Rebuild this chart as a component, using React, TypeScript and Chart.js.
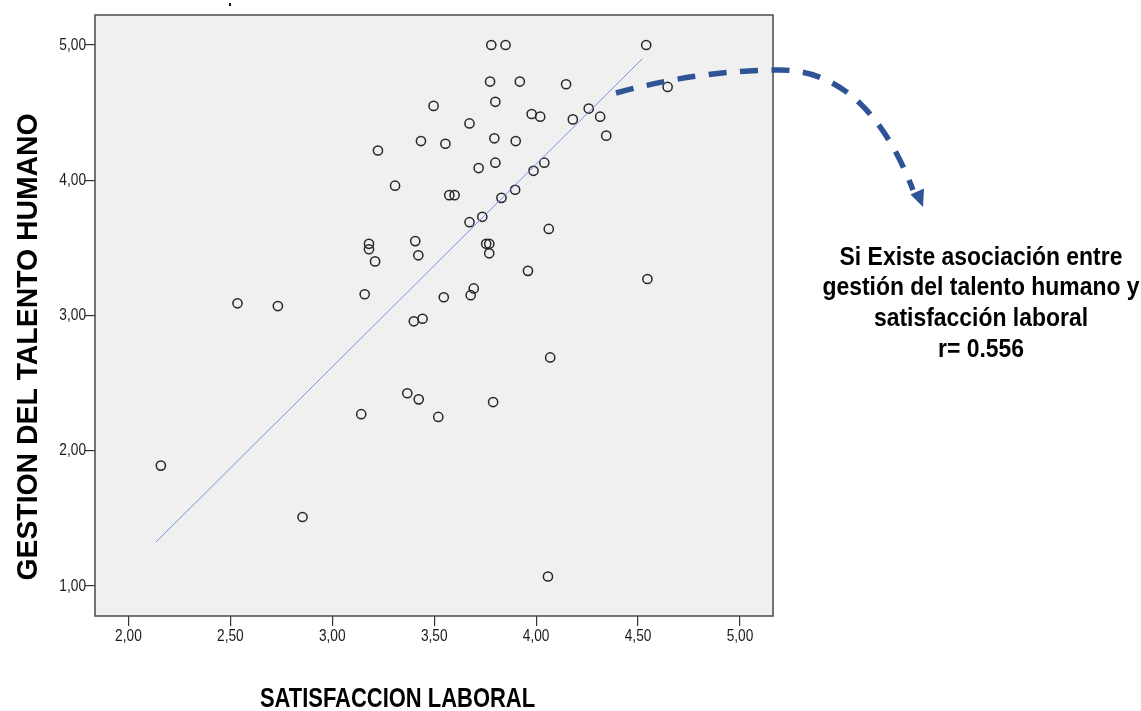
import React, { useEffect, useRef } from "react";
import { Chart, registerables } from "chart.js";

Chart.register(...registerables);

// SATISFACCION LABORAL (x) and GESTION DEL TALENTO HUMANO (y)
const satisfaccion = [
  3.78, 3.85, 4.54, 3.774, 3.92, 4.147, 4.645, 3.497, 3.8, 4.258,
  3.978, 4.02, 4.314, 4.18, 3.673, 4.344, 3.224, 3.435, 3.555, 3.795,
  3.9, 3.718, 3.8, 3.987, 4.04, 3.308, 3.574, 3.6, 3.83, 3.897,
  3.673, 3.736, 4.062, 3.18, 3.18, 3.21, 3.407, 3.422, 3.755, 3.77,
  3.77, 3.96, 4.546, 3.159, 3.547, 3.694, 3.679, 3.4, 3.443, 4.069,
  3.368, 3.424, 3.789, 3.142, 3.52, 2.535, 2.733, 2.159, 2.854, 4.058,
];
const gestion = [
  5.0, 5.0, 5.0, 4.73, 4.73, 4.71, 4.69, 4.55, 4.58, 4.53,
  4.49, 4.47, 4.47, 4.45, 4.42, 4.33, 4.22, 4.29, 4.27, 4.31,
  4.29, 4.09, 4.13, 4.07, 4.13, 3.96, 3.89, 3.89, 3.87, 3.93,
  3.69, 3.73, 3.64, 3.53, 3.49, 3.4, 3.55, 3.445, 3.53, 3.53,
  3.46, 3.33, 3.27, 3.157, 3.135, 3.2, 3.15, 2.957, 2.976, 2.69,
  2.425, 2.38, 2.36, 2.27, 2.25, 3.09, 3.07, 1.89, 1.51, 1.07,
];

// fit line end points
const fitX = [2.134, 4.522];
const fitY = [1.323, 4.9];

const xTicks = [2, 2.5, 3, 3.5, 4, 4.5, 5];
const yTicks = [1, 2, 3, 4, 5];

const xTitle = "SATISFACCION LABORAL";
const yTitle = "GESTION DEL TALENTO HUMANO";
const noteLines = [
  "Si Existe asociación entre",
  "gestión del talento humano y",
  "satisfacción laboral",
  "r= 0.556",
];

const fmt = (v: number) => v.toFixed(2).replace(".", ",");
const SANS = '"Liberation Sans", Arial, sans-serif';

function drawText(
  ctx: CanvasRenderingContext2D,
  text: string,
  x: number,
  y: number,
  font: string,
  sx: number,
  rot = 0,
  align: CanvasTextAlign = "center",
  baseline: CanvasTextBaseline = "alphabetic",
  color = "#000"
) {
  ctx.save();
  ctx.translate(x, y);
  if (rot) ctx.rotate(rot);
  ctx.scale(sx, 1);
  ctx.font = font;
  ctx.textAlign = align;
  ctx.textBaseline = baseline;
  ctx.fillStyle = color;
  ctx.fillText(text, 0, 0);
  ctx.restore();
}

const decor = {
  id: "decor",
  beforeDatasetsDraw(chart: any) {
    const { ctx, chartArea: a } = chart;
    ctx.save();
    ctx.fillStyle = "#F0F0F0";
    ctx.fillRect(a.left, a.top, a.right - a.left, a.bottom - a.top);
    ctx.restore();
  },
  afterDraw(chart: any) {
    const { ctx, chartArea: a, scales } = chart;
    ctx.save();
    ctx.strokeStyle = "#4a4a4a";
    ctx.lineWidth = 1.5;
    ctx.strokeRect(a.left, a.top, a.right - a.left, a.bottom - a.top);
    // tiny dot above
    ctx.fillStyle = "#111";
    ctx.fillRect(229, 3, 2, 3);

    // narrow tick labels from the scales' own ticks
    const tf = `16.5px ${SANS}`;
    scales.x.ticks.forEach((t: any) => {
      const px = scales.x.getPixelForValue(t.value);
      drawText(ctx, fmt(t.value), px, a.bottom + 20, tf, 0.83, 0, "center", "middle", "#1a1a1a");
    });
    scales.y.ticks.forEach((t: any) => {
      const py = scales.y.getPixelForValue(t.value);
      drawText(ctx, fmt(t.value), a.left - 9, py, tf, 0.83, 0, "right", "middle", "#1a1a1a");
    });

    // titles
    drawText(ctx, xTitle, 397.5, 706.5, `bold 28px ${SANS}`, 0.784);
    drawText(ctx, yTitle, 37, 347, `bold 30px ${SANS}`, 0.946, -Math.PI / 2);

    // annotation text
    const baselines = [265, 295, 326, 356.5];
    noteLines.forEach((t, i) =>
      drawText(ctx, t, 981, baselines[i], `bold 26.5px ${SANS}`, 0.865)
    );

    // dashed curved arrow
    ctx.strokeStyle = "#2F5496";
    ctx.fillStyle = "#2F5496";
    ctx.lineWidth = 5.5;
    ctx.setLineDash([18, 13.5]);
    ctx.beginPath();
    ctx.moveTo(616, 93);
    ctx.quadraticCurveTo(700, 70, 780, 70);
    ctx.bezierCurveTo(850, 70, 890, 130, 913, 190);
    ctx.stroke();
    ctx.setLineDash([]);
    ctx.beginPath();
    ctx.moveTo(923, 207);
    ctx.lineTo(910.5, 194.5);
    ctx.lineTo(924, 188.5);
    ctx.closePath();
    ctx.fill();
    ctx.restore();
  },
};

export default function App() {
  const ref = useRef<HTMLCanvasElement | null>(null);
  useEffect(() => {
    document.body.style.margin = "0";
    const canvas = ref.current!;
    const chart = new Chart(canvas, {
      type: "scatter",
      data: {
        datasets: [
          {
            type: "line",
            data: fitX.map((x, i) => ({ x, y: fitY[i] })),
            borderColor: "rgba(105,145,220,0.95)",
            borderWidth: 1,
            pointRadius: 0,
            fill: false,
          } as any,
          {
            data: satisfaccion.map((x, i) => ({ x, y: gestion[i] })),
            pointStyle: "circle",
            pointRadius: 4.6,
            borderColor: "#262626",
            borderWidth: 1.5,
            backgroundColor: "rgba(0,0,0,0)",
          },
        ],
      },
      options: {
        animation: false,
        responsive: false,
        devicePixelRatio: 1,
        layout: { padding: { left: 0, top: 15, right: 1141 - 773, bottom: 0 } },
        plugins: { legend: { display: false }, tooltip: { enabled: false } },
        scales: {
          x: {
            type: "linear",
            min: 1.836,
            max: 5.162,
            afterFit: (s: any) => {
              s.height = 95;
            },
            afterBuildTicks: (s: any) => {
              s.ticks = xTicks.map((value) => ({ value }));
            },
            border: { display: false },
            grid: {
              drawOnChartArea: false,
              drawTicks: true,
              tickLength: 10,
              color: "#333",
              lineWidth: 1.2,
            },
            ticks: { display: false },
          },
          y: {
            type: "linear",
            min: 0.778,
            max: 5.222,
            afterFit: (s: any) => {
              s.width = 95;
            },
            afterBuildTicks: (s: any) => {
              s.ticks = yTicks.map((value) => ({ value }));
            },
            border: { display: false },
            grid: {
              drawOnChartArea: false,
              drawTicks: true,
              tickLength: 10,
              color: "#333",
              lineWidth: 1.2,
            },
            ticks: { display: false },
          },
        },
      },
      plugins: [decor],
    });
    return () => chart.destroy();
  }, []);
  return (
    <div style={{ width: 1141, height: 711, background: "#fff" }}>
      <canvas ref={ref} width={1141} height={711} style={{ display: "block" }} />
    </div>
  );
}
